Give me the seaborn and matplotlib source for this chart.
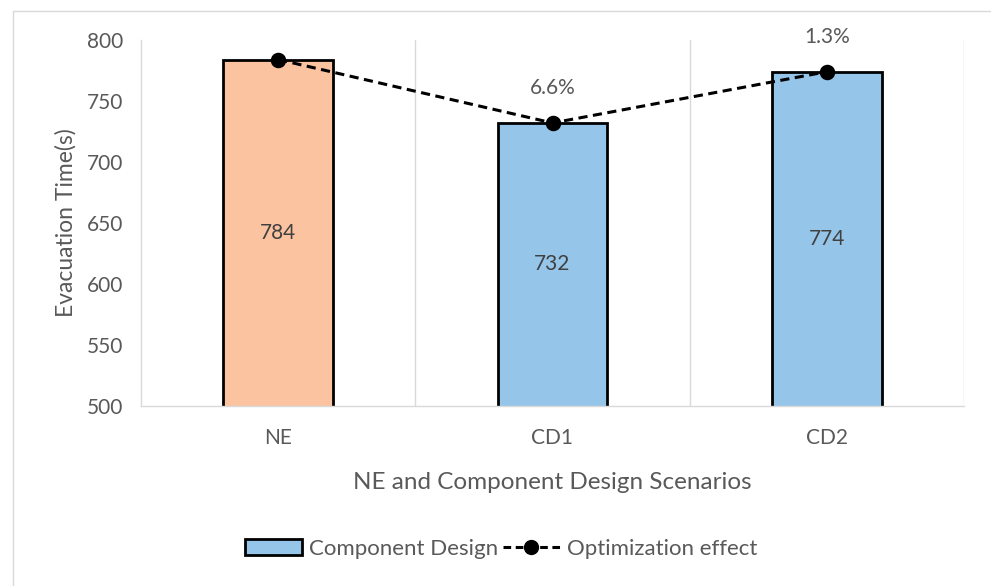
import matplotlib
matplotlib.use('Agg')
import matplotlib.pyplot as plt
import seaborn as sns
import pandas as pd
from matplotlib.patches import Patch
from matplotlib.lines import Line2D

# Values
scenarios = ['NE', 'CD1', 'CD2']
evac_time = [784, 732, 774]
effect_labels = ['', '6.6%', '1.3%']
bar_colors = ['#FBC3A0', '#96C5EA', '#96C5EA']

df = pd.DataFrame({'Scenario': scenarios, 'Time': evac_time})

sns.set_style('white')
plt.rcParams['font.family'] = ['Lato', 'DejaVu Sans']
text_col = '#595959'
grid_col = '#D9D9D9'

fig = plt.figure(figsize=(9.91, 5.86), dpi=100)
ax = fig.add_axes([141 / 991, 180 / 586, 823 / 991, 366 / 586])

sns.barplot(data=df, x='Scenario', y='Time', hue='Scenario', palette=bar_colors,
            saturation=1, width=0.4, edgecolor='black', linewidth=2,
            legend=False, ax=ax, zorder=2)
sns.pointplot(data=df, x='Scenario', y='Time', color='black', linestyles='--',
              markers='o', markersize=9.5, linewidth=2.2, ax=ax, zorder=4)
for ln in ax.lines:
    ln.set_dashes([3, 1.8])

ax.set_ylim(500, 800)
ax.set_yticks(range(500, 801, 50))
ax.set_xlim(-0.5, 2.5)

# value labels in the middle of each bar, effect labels above the points
for i, v in enumerate(evac_time):
    ax.text(i, (500 + v) / 2, str(v), ha='center', va='center',
            fontsize=15, color='#404040')
    if effect_labels[i]:
        ax.annotate(effect_labels[i], (i, v), xytext=(0, 25),
                    textcoords='offset points', ha='center', va='center',
                    fontsize=15, color=text_col)

# category separators as vertical gridlines
for xb in [0.5, 1.5, 2.5]:
    ax.axvline(xb, color=grid_col, lw=1, zorder=0)
for side in ['top', 'right']:
    ax.spines[side].set_visible(False)
for side in ['left', 'bottom']:
    ax.spines[side].set_color(grid_col)
    ax.spines[side].set_linewidth(1)

ax.tick_params(axis='both', length=0, labelsize=15, colors=text_col)
ax.tick_params(axis='y', pad=12.5)
ax.tick_params(axis='x', pad=16)
ax.set_xlabel('NE and Component Design Scenarios', fontsize=17.5, color=text_col,
              labelpad=17)
ax.set_ylabel('Evacuation Time(s)', fontsize=16.5, color=text_col, labelpad=8)

handles = [Patch(facecolor=bar_colors[1], edgecolor='black', linewidth=2),
           Line2D([0], [0], color='black', ls='--', lw=2.2, marker='o',
                  markersize=10, dashes=[2.5, 1.5])]
leg = fig.legend(handles, ['Component Design', 'Optimization effect'],
                 loc='center', bbox_to_anchor=(501 / 991, 1 - 549 / 586),
                 ncol=2, frameon=False, fontsize=16, handlelength=2.6,
                 handleheight=0.75, columnspacing=0.2, handletextpad=0.3)
for t in leg.get_texts():
    t.set_color(text_col)

# outer chart border (only left and top edges are in view)
fig.add_artist(Line2D([13 / 991, 13 / 991], [0, 1 - 11 / 586],
                      transform=fig.transFigure, color=grid_col, lw=1))
fig.add_artist(Line2D([13 / 991, 1], [1 - 11 / 586, 1 - 11 / 586],
                      transform=fig.transFigure, color=grid_col, lw=1))

fig.savefig('out.png', dpi=100)
